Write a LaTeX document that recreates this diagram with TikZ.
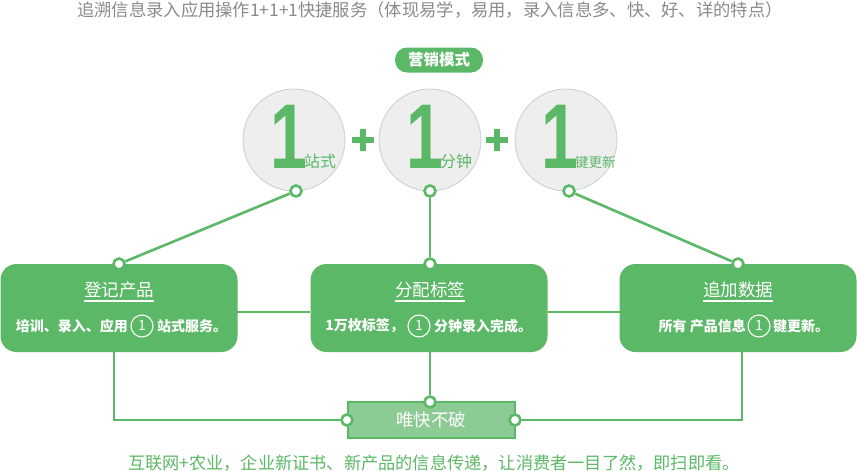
\documentclass[tikz,border=0pt]{standalone}
\usepackage{fontspec}
\setmainfont{Noto Sans CJK SC}
\newfontfamily\digitfont{Liberation Sans}
\definecolor{gr}{HTML}{5BB866}
\definecolor{lgr}{HTML}{8DCB95}
\definecolor{cfill}{HTML}{EEEEEE}
\definecolor{cbord}{HTML}{C7CCD6}
\definecolor{tgray}{HTML}{8A8A8A}
\newcommand{\bigdigit}{\makebox[28pt][l]{\scalebox{0.72}[1]{1}}}
\begin{document}
\begin{tikzpicture}[x=1pt,y=-1pt,
  ring/.style={circle,draw=gr,line width=2.6pt,fill=white,minimum size=11pt,inner sep=0pt},
  conn/.style={draw=gr,line width=2.6pt},
  bigcirc/.style={circle,draw=cbord,line width=0.8pt,fill=cfill,minimum size=102pt,inner sep=0pt},
  gbox/.style={rectangle,rounded corners=16pt,fill=gr,minimum width=237pt,minimum height=88pt,inner sep=0pt},
  boxtitle/.style={text=white,font=\fontsize{17.5}{20}\selectfont,inner sep=0pt},
  subtxt/.style={text=white,font=\bfseries\fontsize{14}{16}\selectfont,inner sep=0pt},
  onecirc/.style={circle,draw=white,line width=1.1pt,minimum size=22pt,inner sep=0pt,text=white,font=\fontsize{14}{16}\selectfont},
  bigone/.style={text=gr,font=\digitfont\bfseries\fontsize{92}{92}\selectfont,inner sep=0pt,anchor=base west},
  ctext/.style={text=gr,font=\fontsize{16}{18}\selectfont,inner sep=0pt,anchor=base west},
  uline/.style={draw=white,line width=2pt}
]
\useasboundingbox (0,0) rectangle (857,471);

% title
\node[text=tgray,font=\fontsize{17.3}{20}\selectfont,inner sep=0pt] (title) at (430,10) {追溯信息录入应用操作1+1+1快捷服务（体现易学，易用，录入信息多、快、好、详的特点）};

% pill
\node[fill=gr,rounded corners=12pt,minimum width=88pt,minimum height=25pt,inner sep=0pt,text=white,font=\bfseries\fontsize{15.5}{18}\selectfont] (pill) at (439,60) {营销模式};

% big circles
\node[bigcirc] (c1) at (294,140) {};
\node[bigcirc] (c2) at (430,140) {};
\node[bigcirc] (c3) at (566,140) {};
\node[bigone] (o1) at (270,168) {\bigdigit};
\node[bigone] (o2) at (406,168) {\bigdigit};
\node[bigone] (o3) at (541,168) {\bigdigit};
\node[ctext] (t1) at (304,167) {站式};
\node[ctext] (t2) at (440,167) {分钟};
\node[ctext,font=\fontsize{13.5}{16}\selectfont] (t3) at (575,167) {键更新};

% plus signs
\draw[gr,line width=6pt] (352,140) -- (374,140) (363,129) -- (363,151);
\draw[gr,line width=6pt] (486,140) -- (508,140) (497,129) -- (497,151);

% boxes
\node[gbox] (b1) at (119,308) {};
\node[gbox] (b2) at (429,308) {};
\node[gbox] (b3) at (738,308) {};

\node[boxtitle] (h1) at (119,290) {登记产品};
\node[boxtitle] (h2) at (430,290) {分配标签};
\node[boxtitle] (h3) at (738,290) {追加数据};
\draw[uline] (84,301) -- (154,301);
\draw[uline] (395,301) -- (465,301);
\draw[uline] (703,301) -- (773,301);

\node[subtxt,anchor=east] (p1a) at (128,326) {培训、录入、应用};
\node[onecirc] (n1) at (142,326) {1};
\node[subtxt,anchor=west] (p1b) at (157,326) {站式服务。};

\node[subtxt,anchor=east] (p2a) at (404,326) {1万枚标签，};
\node[onecirc] (n2) at (419,326) {1};
\node[subtxt,anchor=west] (p2b) at (434,326) {分钟录入完成。};

\node[subtxt,anchor=east] (p3a) at (746,326) {所有 产品信息};
\node[onecirc] (n3) at (759,326) {1};
\node[subtxt,anchor=west] (p3b) at (773,326) {键更新。};

% bottom box
\node[rectangle,draw=gr,line width=2pt,fill=lgr,minimum width=167pt,minimum height=36pt,inner sep=0pt,text=white,font=\fontsize{17.5}{20}\selectfont] (w) at (431,420) {唯快不破};

% rings
\node[ring] (r1) at (296,191) {};
\node[ring] (r2) at (430,191) {};
\node[ring] (r3) at (569,191) {};
\node[ring] (s1) at (119,264) {};
\node[ring] (s2) at (430,264) {};
\node[ring] (s3) at (738,264) {};
\node[ring] (wt) at (430,402) {};
\node[ring] (wl) at (347,420) {};
\node[ring] (wr) at (515,420) {};

% connectors
\draw[conn] (r1) -- (s1);
\draw[conn] (r2) -- (s2);
\draw[conn] (r3) -- (s3);
\coordinate (d1) at (114,352);
\coordinate (d2) at (430,352);
\coordinate (d3) at (742,352);
\draw[conn] (d1) |- (wl);
\draw[conn] (d2) -- (wt);
\draw[conn] (d3) |- (wr);
\coordinate (e1) at (237,312);
\coordinate (e2) at (310,312);
\coordinate (e3) at (548,312);
\coordinate (e4) at (620,312);
\draw[conn] (e1) -- (e2);
\draw[conn] (e3) -- (e4);

% footer
\node[text=gr,font=\fontsize{17.2}{20}\selectfont,inner sep=0pt] (foot) at (434,463) {互联网+农业，企业新证书、新产品的信息传递，让消费者一目了然，即扫即看。};
\end{tikzpicture}
\end{document}
